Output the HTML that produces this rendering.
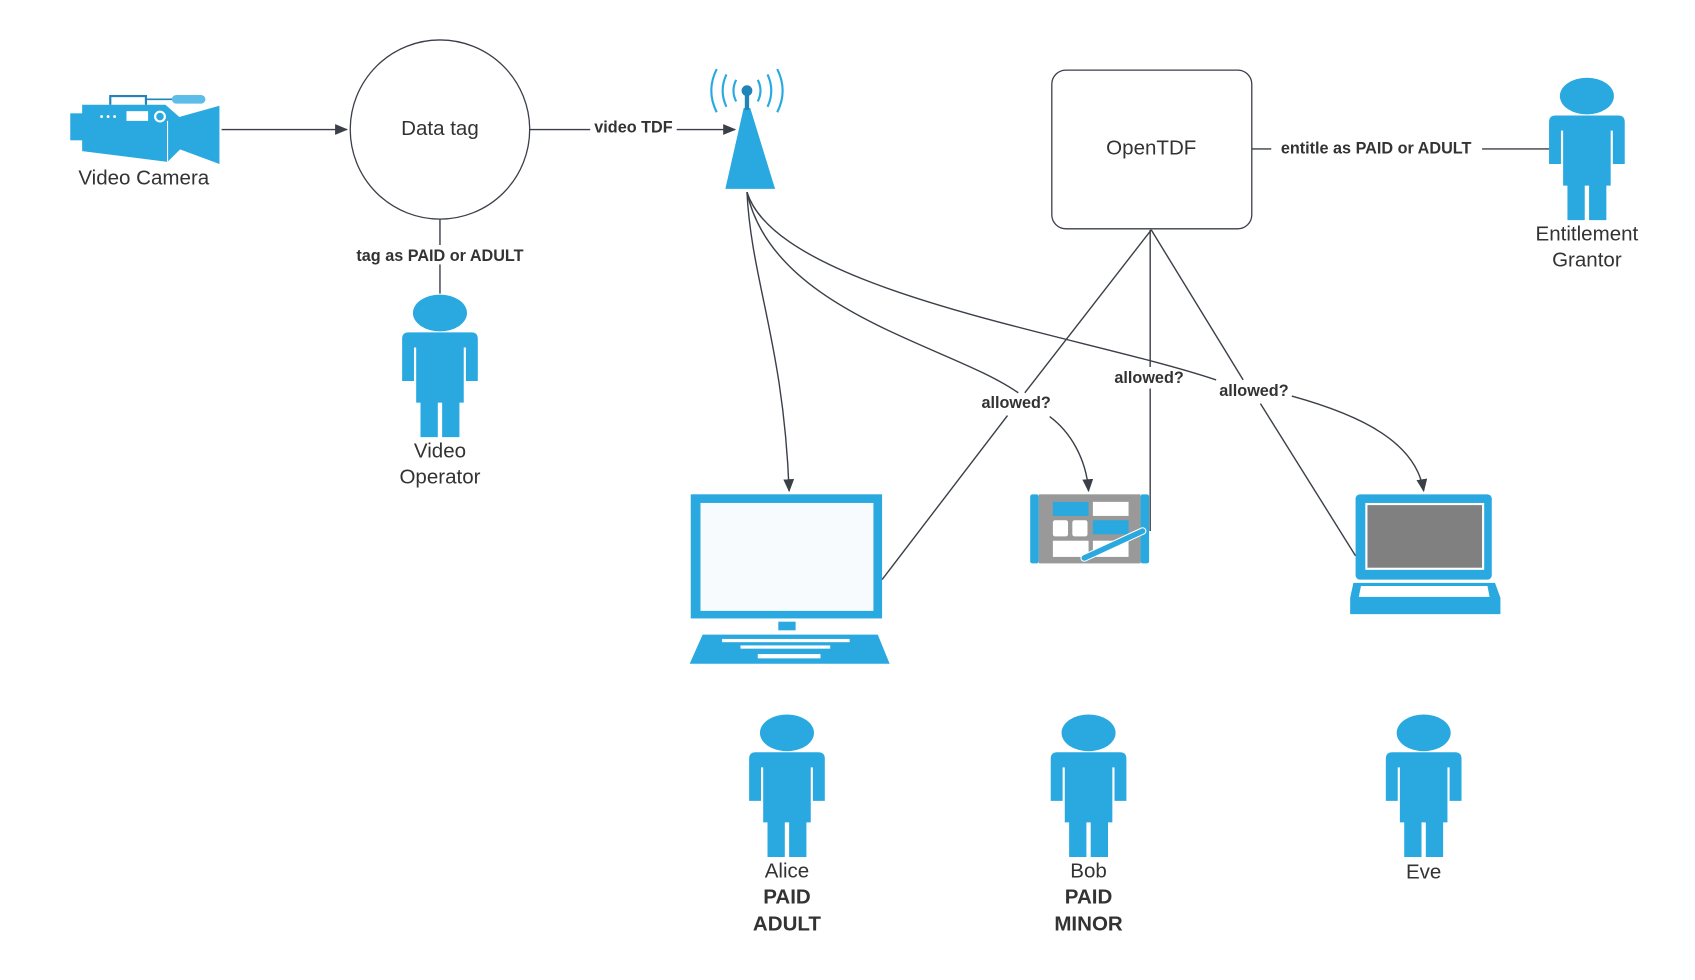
<!DOCTYPE html>
<html><head><meta charset="utf-8"><style>
html,body{margin:0;padding:0;background:#fff;}
svg{display:block;}
text{font-family:"Liberation Sans",Arial,sans-serif;}
.lbl{font-size:19px;fill:#333;text-anchor:middle;}
.b{font-size:15px;font-weight:bold;fill:#333;text-anchor:middle;}
.bb{font-size:19px;font-weight:bold;fill:#333;text-anchor:middle;}
.ln{stroke:#3a3f48;stroke-width:1.3;fill:none;}
.bl{fill:#29a9e0;}
</style></head><body>
<svg width="1695" height="980" viewBox="0 0 1568 908" preserveAspectRatio="none" xmlns="http://www.w3.org/2000/svg">
<defs>
<marker id="ar" markerWidth="12" markerHeight="10" refX="11" refY="5" orient="auto" markerUnits="userSpaceOnUse">
<path d="M0,0 L12,5 L0,10 Z" fill="#3a3f48"/></marker>
<g id="person">
<ellipse cx="0" cy="-18" rx="25" ry="17" class="bl"/>
<path d="M-35,6 Q-35,0 -29,0 L29,0 Q35,0 35,6 L35,45 L24,45 L24,14 L22,14 L22,65 L18,65 L18,97 L2,97 L2,65 L-2,65 L-2,97 L-18,97 L-18,65 L-22,65 L-22,14 L-24,14 L-24,45 L-35,45 Z" class="bl"/>
</g>
</defs>

<!-- camera -->
<rect x="65" y="105" width="12" height="25" class="bl"/>
<path d="M76,97 L153,97 L170,112 L170,135 L155,150 L76,140 Z" class="bl"/>
<path d="M160,110 L203,98 L203,152 L160,136 Z" class="bl"/>
<line x1="155" y1="112" x2="155" y2="150" stroke="#fff" stroke-width="1"/>
<rect x="117" y="103" width="20" height="9" fill="#fff"/>
<circle cx="148" cy="108" r="4.5" fill="none" stroke="#fff" stroke-width="2"/>
<circle cx="94" cy="108" r="1.3" fill="#fff"/><circle cx="100" cy="108" r="1.3" fill="#fff"/><circle cx="106" cy="108" r="1.3" fill="#fff"/>
<path d="M102,97 L102,89 L135,89 L135,97" fill="none" stroke="#1f85b8" stroke-width="2"/>
<line x1="135" y1="92" x2="160" y2="92" stroke="#1f85b8" stroke-width="1.5"/>
<rect x="159" y="88" width="31" height="8" rx="4" fill="#5bbde8"/>
<text x="133" y="171" class="lbl">Video Camera</text>
<line x1="205" y1="120" x2="321" y2="120" class="ln" marker-end="url(#ar)"/>

<!-- data tag -->
<circle cx="407" cy="120" r="83" fill="#fff" stroke="#3a3f48" stroke-width="1.2"/>
<text x="407" y="125" class="lbl">Data tag</text>
<line x1="490" y1="120" x2="680" y2="120" class="ln" marker-end="url(#ar)"/>
<rect x="546" y="108" width="80" height="18" fill="#fff"/>
<text x="586" y="123" class="b">video TDF</text>
<line x1="407" y1="203" x2="407" y2="272" class="ln"/>
<rect x="320" y="227" width="174" height="18" fill="#fff"/>
<text x="407" y="242" class="b">tag as PAID or ADULT</text>
<use href="#person" x="407" y="308"/>
<text x="407" y="424" class="lbl">Video</text>
<text x="407" y="448" class="lbl">Operator</text>

<!-- tower -->
<path d="M688,100 L694,100 L717,175 L671,175 Z" class="bl"/>
<rect x="689" y="86" width="4" height="16" fill="#1f85b8"/>
<circle cx="691" cy="84" r="5" fill="#1f85b8"/>
<g fill="none" stroke="#29a9e0" stroke-width="2">
<path d="M681,74 Q676,84 681,94"/><path d="M701,74 Q706,84 701,94"/>
<path d="M672,69 Q665,84 672,99"/><path d="M710,69 Q717,84 710,99"/>
<path d="M663,64 Q653,84 663,104"/><path d="M719,64 Q729,84 719,104"/>
</g>

<!-- OpenTDF -->
<rect x="973" y="65" width="185" height="147" rx="13" fill="#fff" stroke="#3a3f48" stroke-width="1.2"/>
<text x="1065" y="143" class="lbl">OpenTDF</text>
<line x1="1158" y1="138" x2="1434" y2="138" class="ln"/>
<rect x="1176" y="127" width="195" height="18" fill="#fff"/>
<text x="1273" y="142" class="b">entitle as PAID or ADULT</text>
<use href="#person" x="1468" y="107"/>
<text x="1468" y="223" class="lbl">Entitlement</text>
<text x="1468" y="247" class="lbl">Grantor</text>

<!-- connectors -->
<path d="M691,178 C695,260 725,320 730,455" class="ln" marker-end="url(#ar)"/>
<path d="M691,178 C715,290 880,320 942,364" class="ln"/>
<path d="M971,386 C990,400 1005,425 1007,455" class="ln" marker-end="url(#ar)"/>
<path d="M691,178 C720,270 1000,310 1125,352" class="ln"/>
<path d="M1195,367 C1260,385 1310,410 1317,455" class="ln" marker-end="url(#ar)"/>
<line x1="1065" y1="213" x2="948" y2="364" class="ln"/>
<line x1="932" y1="385" x2="816" y2="537" class="ln"/>
<line x1="1064" y1="213" x2="1064" y2="340" class="ln"/>
<line x1="1064" y1="360" x2="1064" y2="492" class="ln"/>
<line x1="1065" y1="213" x2="1150" y2="352" class="ln"/>
<line x1="1166" y1="374" x2="1254" y2="515" class="ln"/>
<text x="940" y="378" class="b">allowed?</text>
<text x="1063" y="355" class="b">allowed?</text>
<text x="1160" y="367" class="b">allowed?</text>

<!-- Alice monitor -->
<rect x="639" y="458" width="177" height="115" class="bl"/>
<rect x="648" y="466" width="160" height="100" fill="#f7fbfd"/>
<rect x="720" y="576" width="16" height="8" class="bl"/>
<path d="M650,588 L812,588 L823,615 L638,615 Z" class="bl"/>
<g fill="#fff">
<rect x="668" y="592" width="118" height="3"/>
<rect x="685" y="598" width="83" height="3"/>
<rect x="701" y="606" width="58" height="4"/>
</g>

<!-- tablet -->
<rect x="953" y="458" width="8" height="64" rx="2" class="bl"/>
<rect x="1055" y="458" width="8" height="64" rx="2" class="bl"/>
<rect x="961" y="458" width="94" height="64" fill="#999"/>
<rect x="974" y="465" width="33" height="13" class="bl"/>
<rect x="1011" y="465" width="33" height="13" fill="#fff"/>
<rect x="974" y="482" width="14" height="15" rx="2" fill="#fff"/>
<rect x="992" y="482" width="14" height="15" rx="2" fill="#fff"/>
<rect x="1011" y="482" width="33" height="13" class="bl"/>
<rect x="974" y="501" width="33" height="15" fill="#fff"/>
<rect x="1011" y="501" width="33" height="15" fill="#fff"/>
<line x1="1003" y1="517" x2="1057" y2="492" stroke="#fff" stroke-width="7" stroke-linecap="round"/>
<line x1="1003" y1="517" x2="1057" y2="492" stroke="#29a9e0" stroke-width="5" stroke-linecap="round"/>

<!-- laptop -->
<rect x="1254" y="458" width="126" height="79" rx="4" class="bl"/>
<rect x="1263" y="466" width="110" height="62" fill="#fff"/>
<rect x="1265" y="468" width="106" height="58" fill="#808080"/>
<path d="M1252,540 L1383,540 L1388,554 L1388,569 L1249,569 L1249,554 Z" class="bl"/>
<path d="M1259,543 L1376,543 L1378,553 L1257,553 Z" fill="#fff"/>

<!-- people -->
<use href="#person" x="728" y="697"/>
<text x="728" y="813" class="lbl">Alice</text>
<text x="728" y="837" class="bb">PAID</text>
<text x="728" y="862" class="bb">ADULT</text>
<use href="#person" x="1007" y="697"/>
<text x="1007" y="813" class="lbl">Bob</text>
<text x="1007" y="837" class="bb">PAID</text>
<text x="1007" y="862" class="bb">MINOR</text>
<use href="#person" x="1317" y="697"/>
<text x="1317" y="814" class="lbl">Eve</text>
</svg>
</body></html>
